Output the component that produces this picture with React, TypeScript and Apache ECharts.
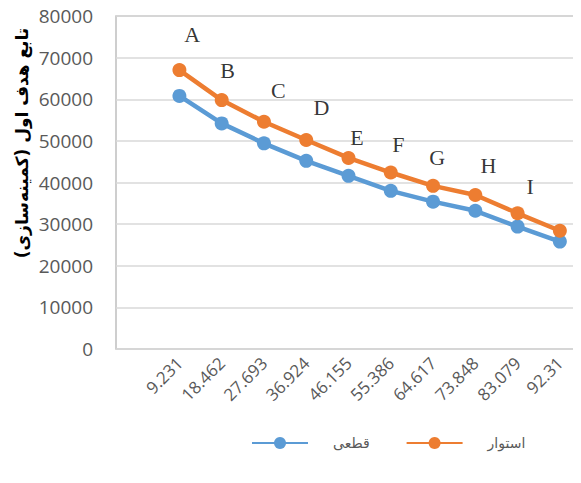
import React, { useEffect, useRef } from "react";
import * as echarts from "echarts";

const categories = ["", "9.231", "18.462", "27.693", "36.924", "46.155", "55.386", "64.617", "73.848", "83.079", "92.31"];
const qateiValues = [null, 60800, 54200, 49400, 45200, 41600, 38000, 35400, 33200, 29400, 25800];
const ostovarValues = [null, 67000, 59800, 54600, 50200, 45900, 42400, 39200, 37000, 32600, 28400];
const yTicks = { min: 0, max: 80000, interval: 10000 };
const pointLetters = ["A", "B", "C", "D", "E", "F", "G", "H", "I"];
const letterX = [1.3, 2.14, 3.34, 4.36, 5.2, 6.18, 7.1, 8.31, 9.3];
const letterY = [75500, 67000, 62100, 57900, 50900, 49200, 46000, 44200, 39000];
const seriesNames = ["قطعی", "استوار"];
const yTitle = "تابع هدف اول (کمینه‌سازی)";

export default function App() {
  const ref = useRef<HTMLDivElement>(null);
  useEffect(() => {
    if (!ref.current) return;
    const chart = echarts.init(ref.current, null, { renderer: "svg" });
    const letterData = pointLetters.map((l, i) => [letterX[i], letterY[i], l]);
    chart.setOption({
      animation: false,
      backgroundColor: "#ffffff",
      grid: {
        left: 116,
        top: 16,
        width: 473,
        height: 333,
        show: true,
        borderColor: "#bfbfbf",
        borderWidth: 1.5,
      },
      legend: {
        left: 246,
        top: 431,
        itemWidth: 56,
        itemHeight: 15,
        itemGap: 36,
        data: seriesNames,
        textStyle: {
          fontFamily: "DejaVu Sans",
          fontSize: 14,
          color: "#595959",
          padding: [0, 0, 0, 20],
        },
      },
      xAxis: [
        {
          type: "category",
          data: categories,
          boundaryGap: true,
          axisLine: { show: false },
          axisTick: { show: false },
          splitLine: { show: false },
          axisLabel: {
            interval: 0,
            rotate: 45,
            fontFamily: "Open Sans",
            fontSize: 17,
            color: "#595959",
            margin: 11,
          },
        },
        {
          type: "value",
          min: -0.5,
          max: 10.5,
          show: false,
        },
      ],
      yAxis: {
        type: "value",
        min: yTicks.min,
        max: yTicks.max,
        interval: yTicks.interval,
        axisLine: { show: false },
        axisTick: { show: false },
        splitLine: { lineStyle: { color: "#d9d9d9", width: 1.5 } },
        axisLabel: {
          fontFamily: "Open Sans",
          fontSize: 19,
          color: "#595959",
          margin: 23,
          formatter: (v: number) => String(v),
        },
      },
      graphic: [
        {
          type: "text",
          x: 22,
          y: 143,
          rotation: Math.PI / 2,
          style: {
            text: yTitle,
            fontFamily: "DejaVu Sans",
            fontWeight: "bold",
            fontSize: 17,
            fill: "#000000",
            align: "center",
            verticalAlign: "middle",
          },
        },
      ],
      series: [
        {
          name: seriesNames[0],
          type: "line",
          data: qateiValues,
          color: "#5B9BD5",
          symbol: "circle",
          symbolSize: 14,
          lineStyle: { width: 4.5, color: "#5B9BD5" },
          itemStyle: { color: "#5B9BD5" },
          z: 3,
        },
        {
          name: seriesNames[1],
          type: "line",
          data: ostovarValues,
          color: "#ED7D31",
          symbol: "circle",
          symbolSize: 14,
          lineStyle: { width: 4.5, color: "#ED7D31" },
          itemStyle: { color: "#ED7D31" },
          z: 4,
        },
        {
          type: "scatter",
          xAxisIndex: 1,
          data: letterData,
          symbolSize: 0,
          silent: true,
          label: {
            show: true,
            position: "inside",
            formatter: (p: any) => p.value[2],
            fontFamily: "Liberation Serif",
            fontSize: 22,
            color: "#000000",
          },
          z: 5,
        },
      ],
    });
    return () => chart.dispose();
  }, []);
  return <div ref={ref} style={{ width: 581, height: 483, margin: -8 }} />;
}
